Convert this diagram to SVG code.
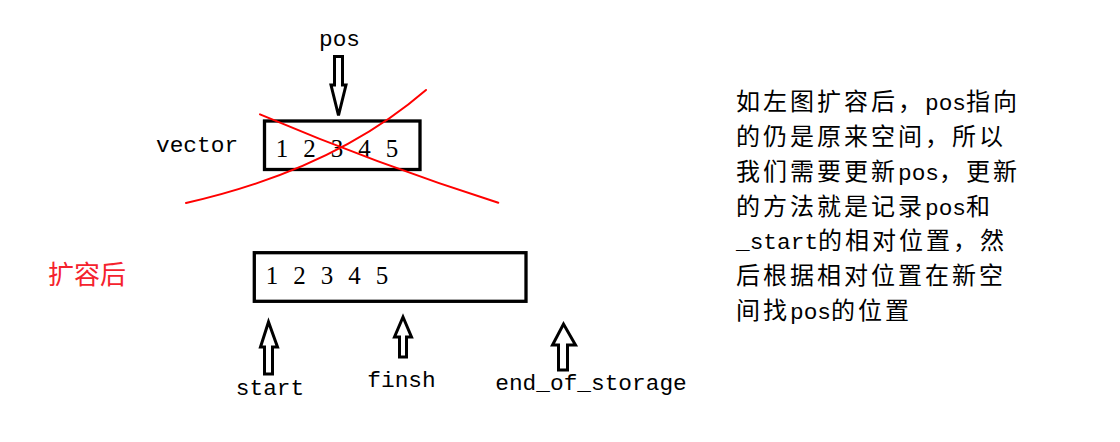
<svg xmlns="http://www.w3.org/2000/svg" width="1120" height="442" viewBox="0 0 1120 442">
<style>
  .mono { font-family: "Liberation Mono", "DejaVu Sans Mono", monospace; font-size: 22.8px; letter-spacing: 0; fill: #000; }
  .digits { font-family: "Liberation Serif", "DejaVu Serif", serif; font-size: 25px; fill: #000; text-anchor: middle; }
  .cjk { font-family: "Noto Sans CJK SC", "Noto Sans", sans-serif; font-size: 24px; letter-spacing: 3px; fill: #000; }
  .box { fill: none; stroke: #000; stroke-width: 3.3; }
  .arrow { fill: #fff; stroke: #000; stroke-width: 3; stroke-linejoin: miter; }
  .cross { fill: none; stroke: #ff0000; stroke-width: 2; stroke-linecap: round; }
</style>
<rect width="1120" height="442" fill="#fff"/>

<g id="pos-label"><text class="mono" x="319" y="46">pos</text></g>
<g id="vector-label"><text class="mono" x="156" y="152">vector</text></g>

<g id="old-vector">
  <rect class="box" x="264.5" y="121" width="155.5" height="48.5"/>
  <text class="digits" x="282 309.5 337 364.5 392" y="156.5">12345</text>
</g>

<g id="cross-out">
  <path class="cross" d="M260,114.3 Q377,164 498.3,202.7"/>
  <path class="cross" d="M186,203 Q334,169.5 426,90"/>
</g>

<g id="expanded-label"><text x="48" y="284" style="font-family:'Noto Sans CJK SC','Noto Sans',sans-serif;font-size:26px;fill:#f5222d">扩容后</text></g>

<g id="new-vector">
  <rect class="box" x="254.3" y="252.7" width="271.7" height="48.6"/>
  <text class="digits" x="272 299.5 327 354.5 382" y="284.3">12345</text>
</g>

<g id="start-label"><text class="mono" x="270" y="395" text-anchor="middle">start</text></g>
<g id="finsh-label"><text class="mono" x="401.5" y="387" text-anchor="middle">finsh</text></g>
<g id="end-label"><text class="mono" x="591" y="390" text-anchor="middle">end_of_storage</text></g>

<g id="connectors">
  <polygon class="arrow" points="334.5,56.5 342.5,56.5 342.5,85 346,85 338.5,115.5 331,85 334.5,85"/>
  <polygon class="arrow" points="264.5,374 272.5,374 272.5,347 277.5,347 268.5,322 260.5,347 264.5,347"/>
  <polygon class="arrow" points="399.5,357 406.5,357 406.5,337 411.5,337 403,317 394.5,337 399.5,337"/>
  <polygon class="arrow" points="558.5,370 567.5,370 567.5,345 575.5,345 563.5,324 552.5,345 558.5,345"/>
</g>

<g id="explanation">
  <text class="cjk" x="736" y="110">如左图扩容后，<tspan class="mono">pos</tspan>指向</text>
  <text class="cjk" x="736" y="145">的仍是原来空间，所以</text>
  <text class="cjk" x="736" y="180">我们需要更新<tspan class="mono">pos</tspan>，更新</text>
  <text class="cjk" x="736" y="214.5">的方法就是记录<tspan class="mono">pos</tspan>和</text>
  <text class="cjk" x="736" y="249"><tspan class="mono">_start</tspan>的相对位置，然</text>
  <text class="cjk" x="736" y="284">后根据相对位置在新空</text>
  <text class="cjk" x="736" y="319">间找<tspan class="mono">pos</tspan>的位置</text>
</g>
</svg>
